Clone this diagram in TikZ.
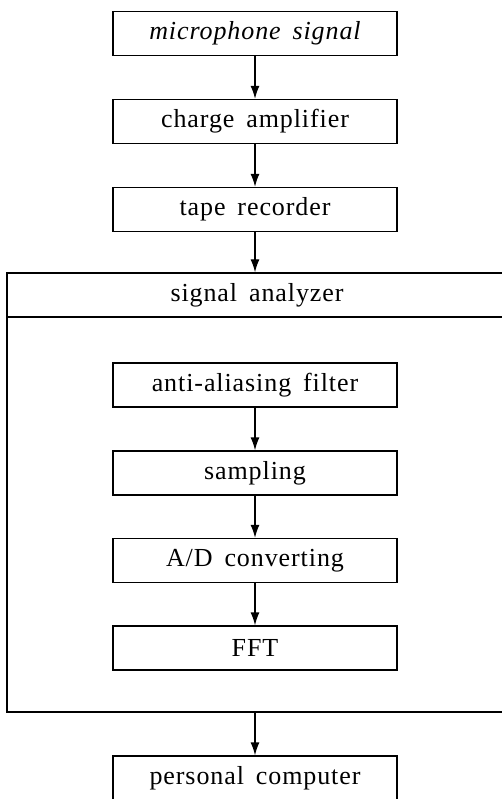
\documentclass[tikz,border=0pt]{standalone}
\usepackage{fontspec}
\setmainfont{Liberation Serif}[LetterSpace=3.5,WordSpace=1.6]
\usetikzlibrary{arrows.meta}
\begin{document}
\begin{tikzpicture}[x=1pt,y=-1pt,
  stagebox/.style={draw, line width=1.3pt, minimum width=284pt, minimum height=44pt,
    inner sep=0pt, font=\fontsize{26}{28}\selectfont},
  flow/.style={line width=1.3pt, -{Latex[length=13pt,width=9pt]}}]
\useasboundingbox (0,0) rectangle (502,799);
\clip (0,0) rectangle (502,799);
\node[stagebox, font=\fontsize{26}{28}\selectfont\itshape] (mic) at (255,33.5) {microphone signal};
\node[stagebox] (amp) at (255,121.5) {charge amplifier};
\node[stagebox] (tape) at (255,209.5) {tape recorder};
\node[draw, line width=1.3pt, minimum width=503pt, minimum height=439pt, inner sep=0pt] (sa) at (258.5,492.5) {};
\coordinate (hl) at (7,317);
\coordinate (hr) at (510,317);
\draw[line width=1.3pt] (hl) -- (hr);
\node[font=\fontsize{26}{28}\selectfont] (hdr) at (257,295) {signal analyzer};
\node[stagebox] (aaf) at (255,385) {anti-aliasing filter};
\node[stagebox] (samp) at (255,473) {sampling};
\node[stagebox] (adc) at (255,560.5) {A/D converting};
\node[stagebox] (fft) at (255,648) {FFT};
\node[stagebox] (pc) at (255,778) {personal computer};
\draw[flow] (mic) -- (amp);
\draw[flow] (amp) -- (tape);
\draw[flow] (tape.south) -- (tape.south |- sa.north);
\draw[flow] (aaf) -- (samp);
\draw[flow] (samp) -- (adc);
\draw[flow] (adc) -- (fft);
\draw[flow] (pc.north |- sa.south) -- (pc.north);
\end{tikzpicture}
\end{document}
